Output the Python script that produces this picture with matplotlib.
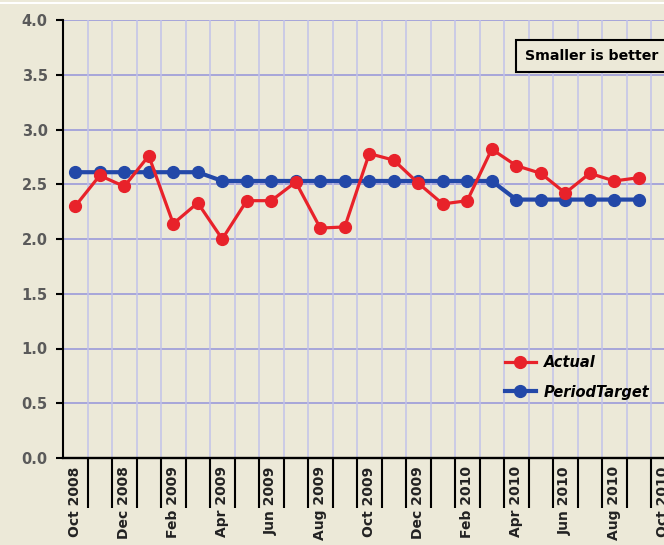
import matplotlib
matplotlib.use("Agg")
import matplotlib.pyplot as plt
from matplotlib.lines import Line2D
import numpy as np

months = ["Oct 2008", "Nov 2008", "Dec 2008", "Jan 2009", "Feb 2009", "Mar 2009",
          "Apr 2009", "May 2009", "Jun 2009", "Jul 2009", "Aug 2009", "Sep 2009",
          "Oct 2009", "Nov 2009", "Dec 2009", "Jan 2010", "Feb 2010", "Mar 2010",
          "Apr 2010", "May 2010", "Jun 2010", "Jul 2010", "Aug 2010", "Sep 2010",
          "Oct 2010"]
actual = [2.30, 2.58, 2.48, 2.76, 2.14, 2.33, 2.00, 2.35, 2.35, 2.52, 2.10, 2.11,
          2.78, 2.72, 2.51, 2.32, 2.35, 2.82, 2.67, 2.60, 2.42, 2.60, 2.53, 2.56]
target = [2.61, 2.61, 2.61, 2.61, 2.61, 2.61, 2.53, 2.53, 2.53, 2.53, 2.53, 2.53,
          2.53, 2.53, 2.53, 2.53, 2.53, 2.53, 2.36, 2.36, 2.36, 2.36, 2.36, 2.36]
yticks = [0.0, 0.5, 1.0, 1.5, 2.0, 2.5, 3.0, 3.5, 4.0]

BG = "#ECE9D8"
RED = "#E8222A"
BLUE = "#2348A8"
W, H = 664, 545
fig = plt.figure(figsize=(W / 100, H / 100), dpi=100, facecolor=BG)

cat_w = 24.5
left_px, top_px, bottom_px = 63, 20, 458
n = len(months)
ax = fig.add_axes([left_px / W, (H - bottom_px) / H, n * cat_w / W, (bottom_px - top_px) / H])
ax.set_facecolor(BG)

x = np.arange(n)
ax.plot(x[:len(target)], target, color=BLUE, lw=3.0, marker="o", ms=8.5,
        mec=BLUE, mfc=BLUE, label="PeriodTarget", zorder=3)
ax.plot(x[:len(actual)], actual, color=RED, lw=2.3, marker="o", ms=8.5,
        mec=RED, mfc=RED, label="Actual", zorder=4)

ax.set_xlim(-0.5, n - 0.5)
ax.set_ylim(0, 4.0)
ax.set_yticks(yticks)
ax.set_yticklabels([f"{v:.1f}" for v in yticks], fontsize=10.5, fontweight="bold", color="#5A5A5A")
ax.tick_params(axis="y", length=5, width=1.5, color="black", pad=6)

ax.set_xticks(x[::2])
ax.set_xticklabels(months[::2], rotation=90, fontsize=10, fontweight="bold",
                   color="#222222", va="top", ha="center")
ax.tick_params(axis="x", which="major", length=0, pad=6)
ax.set_xticks(np.arange(n) + 0.5, minor=True)
ax.tick_params(axis="x", which="minor", length=36, width=1.5, color="black", direction="out")

for v in yticks:
    ax.axhline(v, color="#9494DA", lw=1.1, zorder=1)
for b in np.arange(n) + 0.5:
    ax.axvline(b, color="#C2C2EA", lw=1.1, zorder=1)

for s in ["top", "right"]:
    ax.spines[s].set_visible(False)
ax.spines["left"].set_linewidth(1.5)
ax.spines["bottom"].set_linewidth(1.7)
ax.spines["left"].set_zorder(5)
ax.spines["bottom"].set_zorder(5)

handles = [
    Line2D([], [], color=RED, lw=2.3, marker="o", ms=8.5),
    Line2D([], [], color=BLUE, lw=3.0, marker="o", ms=8.5),
]
fig.legend(handles, ["Actual", "PeriodTarget"], loc="upper left",
           bbox_to_anchor=(505 / W, 1 - 355 / H), frameon=False,
           prop={"weight": "bold", "style": "italic", "size": 10.5},
           handlelength=2.1, handletextpad=0.55, labelspacing=1.0,
           borderpad=0, borderaxespad=0)

fig.text(525 / W, 1 - 56 / H, "Smaller is better", fontsize=10.2, fontweight="bold",
         color="black", ha="left", va="center",
         bbox=dict(boxstyle="square,pad=0.62", fc=BG, ec="black", lw=1.5))

fig.add_artist(Line2D([0, 1], [1 - 2.5 / H, 1 - 2.5 / H], transform=fig.transFigure,
                      color="white", lw=1.5))

fig.savefig("out.png", dpi=100, facecolor=BG)
